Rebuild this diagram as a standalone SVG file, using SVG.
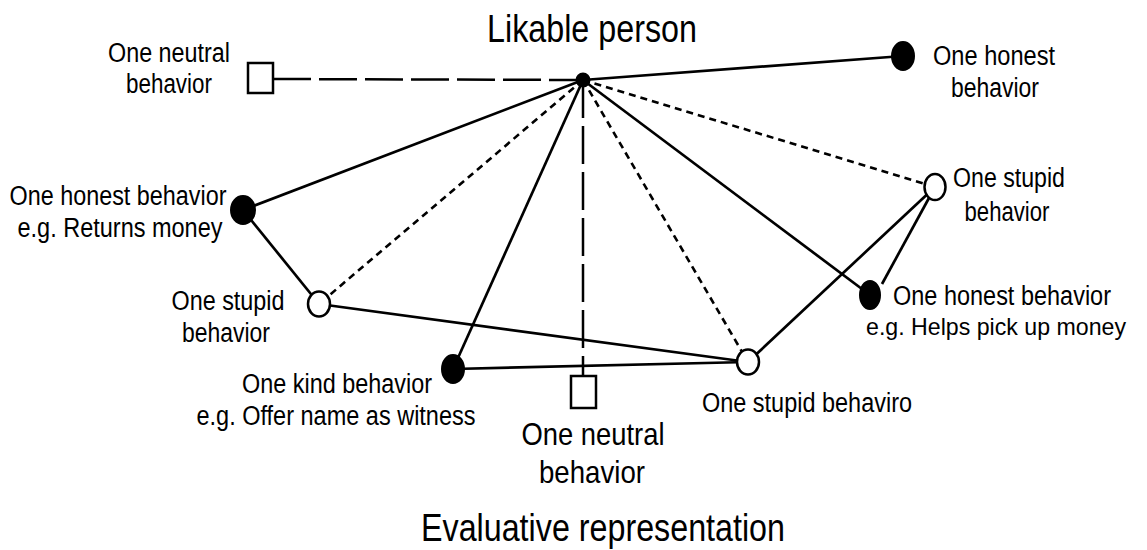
<svg xmlns="http://www.w3.org/2000/svg" width="1147" height="550" viewBox="0 0 1147 550">
  <style>
    text { font-family: "Liberation Sans", Arial, sans-serif; fill: #000; text-anchor: middle; }
    .lbl { font-size: 27px; }
    .sm { font-size: 24px; }
    .big { font-size: 32px; }
    .title { font-size: 38px; }
    .solid { stroke: #000; stroke-width: 2.7; fill: none; }
    .dash { stroke: #000; stroke-width: 2.5; fill: none; stroke-dasharray: 38 8; }
    .dot { stroke: #000; stroke-width: 2.6; fill: none; stroke-dasharray: 7 5; }
    .pos { fill: #000; stroke: #000; stroke-width: 2; }
    .neg { fill: #fff; stroke: #000; stroke-width: 2.5; }
    .neu { fill: #fff; stroke: #000; stroke-width: 2.5; }
  </style>

  <!-- connectors -->
  <g id="connectors">
    <line class="dash" x1="273" y1="79" x2="583" y2="80"/>
    <line class="dash" x1="583" y1="80" x2="583" y2="376"/>
    <line class="solid" x1="583" y1="80" x2="903" y2="56"/>
    <line class="solid" x1="583" y1="80" x2="243" y2="210"/>
    <line class="dot" x1="583" y1="80" x2="319" y2="304"/>
    <line class="solid" x1="583" y1="80" x2="453" y2="369"/>
    <line class="dot" x1="583" y1="80" x2="748" y2="362"/>
    <line class="solid" x1="583" y1="80" x2="870" y2="295"/>
    <line class="dot" x1="583" y1="80" x2="935" y2="187"/>
    <line class="solid" x1="243" y1="210" x2="319" y2="304"/>
    <line class="solid" x1="319" y1="304" x2="748" y2="362"/>
    <line class="solid" x1="453" y1="369" x2="748" y2="362"/>
    <line class="solid" x1="748" y1="362" x2="935" y2="187"/>
    <line class="solid" x1="935" y1="187" x2="882" y2="284"/>
  </g>

  <!-- central concept -->
  <g id="hub">
    <circle class="pos" cx="583" cy="80" r="6.5"/>
    <text class="title" x="592" y="42" textLength="210" lengthAdjust="spacingAndGlyphs">Likable person</text>
  </g>

  <g id="neutral-top">
    <rect class="neu" x="248" y="63" width="25" height="30"/>
    <text class="lbl" x="169" y="62" textLength="122" lengthAdjust="spacingAndGlyphs">One neutral</text>
    <text class="lbl" x="169" y="93" textLength="86" lengthAdjust="spacingAndGlyphs">behavior</text>
  </g>

  <g id="honest-top">
    <ellipse class="pos" cx="903" cy="56" rx="11" ry="14"/>
    <text class="lbl" x="994" y="65" textLength="122" lengthAdjust="spacingAndGlyphs">One honest</text>
    <text class="lbl" x="995" y="97" textLength="88" lengthAdjust="spacingAndGlyphs">behavior</text>
  </g>

  <g id="honest-left">
    <ellipse class="pos" cx="243" cy="210" rx="12" ry="14"/>
    <text class="lbl" x="118" y="205" textLength="217" lengthAdjust="spacingAndGlyphs">One honest behavior</text>
    <text class="lbl" x="120" y="237" textLength="205" lengthAdjust="spacingAndGlyphs">e.g. Returns money</text>
  </g>

  <g id="stupid-left">
    <ellipse class="neg" cx="319" cy="304" rx="11" ry="12.5"/>
    <text class="lbl" x="228" y="310" textLength="113" lengthAdjust="spacingAndGlyphs">One stupid</text>
    <text class="lbl" x="226" y="342" textLength="88" lengthAdjust="spacingAndGlyphs">behavior</text>
  </g>

  <g id="kind">
    <ellipse class="pos" cx="453" cy="369" rx="11" ry="14"/>
    <text class="lbl" x="337" y="393" textLength="190" lengthAdjust="spacingAndGlyphs">One kind behavior</text>
    <text class="lbl" x="336" y="425" textLength="279" lengthAdjust="spacingAndGlyphs">e.g. Offer name as witness</text>
  </g>

  <g id="neutral-bottom">
    <rect class="neu" x="571" y="376" width="25" height="32"/>
    <text class="big" x="593" y="445" textLength="143" lengthAdjust="spacingAndGlyphs">One neutral</text>
    <text class="big" x="592" y="483" textLength="106" lengthAdjust="spacingAndGlyphs">behavior</text>
  </g>

  <g id="stupid-bottom">
    <ellipse class="neg" cx="748" cy="362" rx="11" ry="12.5"/>
    <text class="lbl" x="807" y="412" textLength="210" lengthAdjust="spacingAndGlyphs">One stupid behaviro</text>
  </g>

  <g id="stupid-right">
    <ellipse class="neg" cx="935" cy="187" rx="10.5" ry="13"/>
    <text class="lbl" x="1009" y="187" textLength="112" lengthAdjust="spacingAndGlyphs">One stupid</text>
    <text class="lbl" x="1007" y="221" textLength="85" lengthAdjust="spacingAndGlyphs">behavior</text>
  </g>

  <g id="honest-right">
    <ellipse class="pos" cx="870" cy="295" rx="10" ry="14"/>
    <text class="lbl" x="1002" y="305" textLength="218" lengthAdjust="spacingAndGlyphs">One honest behavior</text>
    <text class="sm" x="996" y="335" textLength="260" lengthAdjust="spacingAndGlyphs">e.g. Helps pick up money</text>
  </g>

  <!-- caption -->
  <text class="title" x="603" y="541" textLength="364" lengthAdjust="spacingAndGlyphs">Evaluative representation</text>
</svg>
